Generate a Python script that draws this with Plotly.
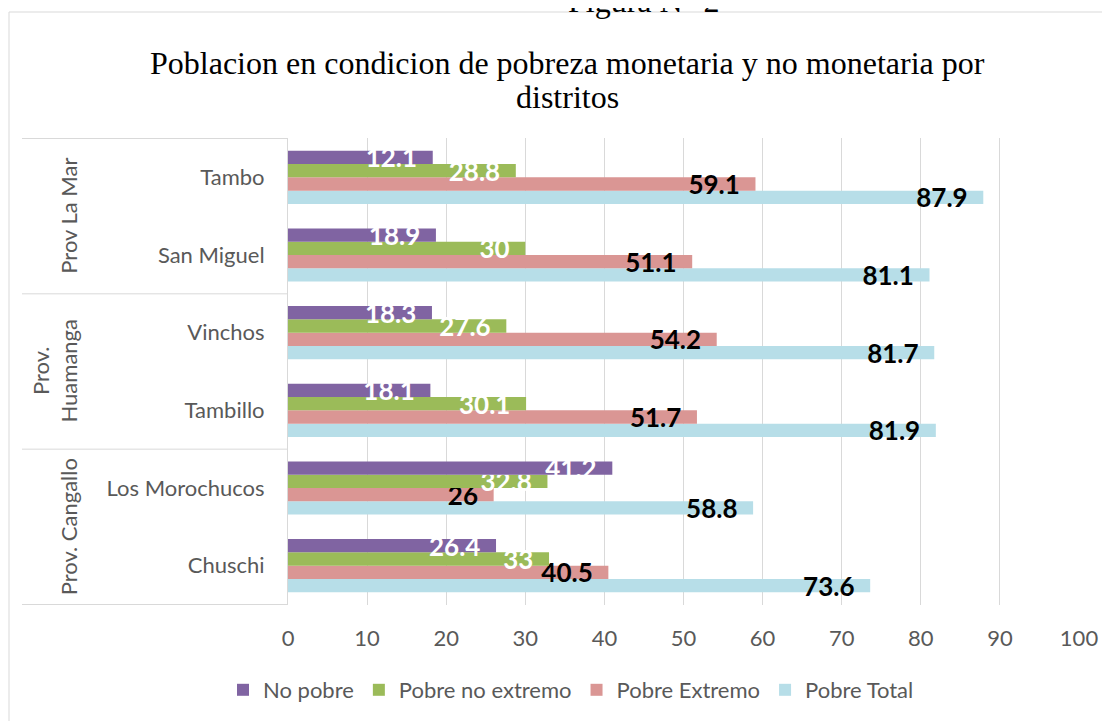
import plotly.graph_objects as go

# ---------------- data ----------------
districts = ["Tambo", "San Miguel", "Vinchos", "Tambillo", "Los Morochucos", "Chuschi"]
provinces = ["Prov La Mar", "Prov.<br>Huamanga", "Prov. Cangallo"]
province_size = [2, 2, 2]

series_names = ["No pobre", "Pobre no extremo", "Pobre Extremo", "Pobre Total"]
no_pobre = [18.3, 18.7, 18.2, 18.0, 41.0, 26.3]
no_pobre_labels = ["12.1", "18.9", "18.3", "18.1", "41.2", "26.4"]
pobre_no_extremo = [28.8, 30.0, 27.6, 30.1, 32.8, 33.0]
pobre_no_extremo_labels = ["28.8", "30", "27.6", "30.1", "32.8", "33"]
pobre_extremo = [59.1, 51.1, 54.2, 51.7, 26.0, 40.5]
pobre_extremo_labels = ["59.1", "51.1", "54.2", "51.7", "26", "40.5"]
pobre_total = [87.9, 81.1, 81.7, 81.9, 58.8, 73.6]
pobre_total_labels = ["87.9", "81.1", "81.7", "81.9", "58.8", "73.6"]

x_ticks = [0, 10, 20, 30, 40, 50, 60, 70, 80, 90, 100]

colors = ["#8064A2", "#9BBB59", "#DA9694", "#B7DEE8"]
label_colors = ["white", "white", "black", "black"]

title_lines = ["Poblacion en condicion de pobreza monetaria y no monetaria por", "distritos"]
figure_caption = "Figura N° 2"

# ---------------- layout constants ----------------
OFF = 8                      # page body margin of the html page
W, H = 1110 - OFF, 721 - OFF
ML, MR, MT, MB = 280, 31, 130, 116
PW = W - ML - MR
PH = H - MT - MB
GRID = "#D9D9D9"
TXT = "#595959"
SANS = "Lato, 'Open Sans', sans-serif"
SERIF = "'Liberation Serif', 'Times New Roman', serif"


def px_x(p):
    """screen x pixel -> paper x"""
    return (p - OFF - ML) / PW


def px_y(p):
    """screen y pixel -> paper y"""
    return (H - MB - (p - OFF)) / PH


pad = "\u00a0\u00a0"

fig = go.Figure()
values = [no_pobre, pobre_no_extremo, pobre_extremo, pobre_total]
labels = [no_pobre_labels, pobre_no_extremo_labels, pobre_extremo_labels, pobre_total_labels]

# add bottom-most series first so the top series (and its labels) is drawn last
for i in reversed(range(4)):
    fig.add_trace(go.Bar(
        name=series_names[i],
        y=districts,
        x=values[i],
        orientation="h",
        marker=dict(color=colors[i], line=dict(width=0)),
        text=[t + pad for t in labels[i]],
        textposition="inside",
        insidetextanchor="end",
        constraintext="none",
        textangle=0,
        cliponaxis=False,
        insidetextfont=dict(family=SANS, size=26, color=label_colors[i], weight="bold"),
        textfont=dict(family=SANS, size=26, color=label_colors[i], weight="bold"),
        hoverinfo="x+y+name",
    ))

fig.update_layout(
    width=W, height=H,
    margin=dict(l=ML, r=MR, t=MT, b=MB, autoexpand=False),
    paper_bgcolor="white", plot_bgcolor="white",
    barmode="group", bargap=0.315, bargroupgap=0,
    showlegend=True,
    legend=dict(orientation="h", traceorder="reversed",
                x=px_x(571), xanchor="center", y=px_y(690), yanchor="middle",
                font=dict(family=SANS, size=22, color=TXT),
                itemwidth=30, itemsizing="constant"),
    xaxis=dict(range=[0, 100], tickvals=x_ticks, showgrid=True, gridcolor=GRID, gridwidth=1,
               zeroline=False, showline=False,
               ticks="outside", ticklen=14, tickcolor="rgba(0,0,0,0)",
               tickfont=dict(family=SANS, size=22, color=TXT), fixedrange=True),
    yaxis=dict(type="category", categoryorder="array", categoryarray=list(reversed(districts)),
               showgrid=False, zeroline=False, showline=True, linecolor=GRID, linewidth=1,
               ticks="outside", ticklen=18, tickcolor="rgba(0,0,0,0)",
               tickfont=dict(family=SANS, size=22, color=TXT), fixedrange=True),
)

# outer chart frame
fig.add_shape(type="rect", xref="paper", yref="paper",
              x0=px_x(9), x1=px_x(1140), y0=px_y(760), y1=px_y(12),
              line=dict(color=GRID, width=1), fillcolor="rgba(0,0,0,0)", layer="below")

# province group separators (category boundaries)
n = len(districts)
bounds = [-0.5]
acc = -0.5
for s in reversed(province_size):
    acc += s
    bounds.append(acc)
for b in bounds:
    fig.add_shape(type="line", xref="paper", yref="y", x0=px_x(22), x1=0, y0=b, y1=b,
                  line=dict(color=GRID, width=1))

# province labels
centers = []
start = n - 1
for s in province_size:
    centers.append(start - (s - 1) / 2)
    start -= s
for name, c in zip(provinces, centers):
    fig.add_annotation(text=name, xref="paper", yref="y", x=px_x(84), y=c,
                       textangle=-90, showarrow=False, xanchor="right", yanchor="middle",
                       font=dict(family=SANS, size=22, color=TXT))

# title (two lines, tight spacing)
for line, ypx in zip(title_lines, [63, 97]):
    fig.add_annotation(text=line, xref="paper", yref="paper", x=px_x(567), y=px_y(ypx),
                       xanchor="center", yanchor="middle", showarrow=False,
                       font=dict(family=SERIF, size=32, color="black"))
# caption cut off at the top
fig.add_annotation(text=figure_caption, xref="paper", yref="paper", x=px_x(643), y=px_y(21),
                   xanchor="center", yanchor="bottom", showarrow=False,
                   font=dict(family=SERIF, size=32, color="black"))

fig.write_html("out.html")
